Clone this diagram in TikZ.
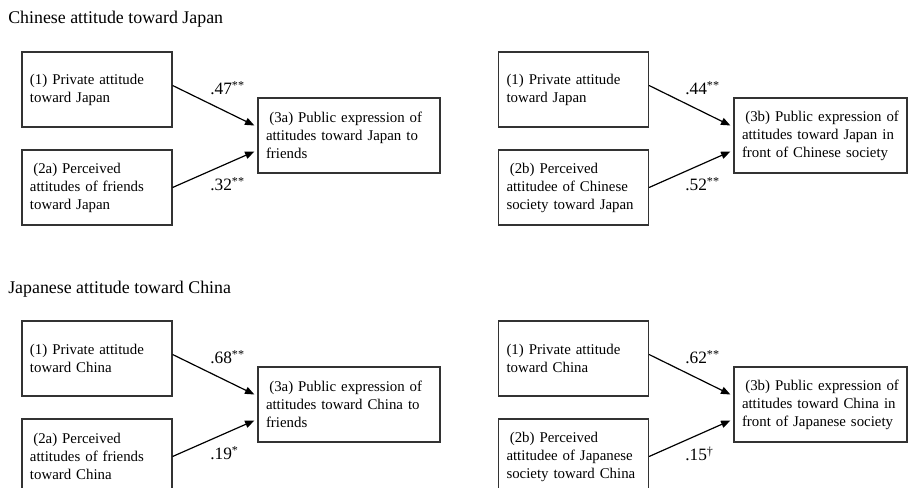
\documentclass[tikz,border=0pt]{standalone}
\usepackage{fontspec}
\setmainfont{Liberation Serif}
\usetikzlibrary{arrows.meta}

\begin{document}
\begin{tikzpicture}[x=0.75pt, y=-0.75pt,
		var/.style={draw=black!80, line width=.9pt, text width=100.5pt, minimum height=56.25pt, inner xsep=6pt, align=left, font=\fontsize{11.15}{13.5}\selectfont},
		outvar/.style={var, text width=124.5pt},
		path/.style={line width=.9pt, -{Triangle[length=7pt, width=5.5pt]}},
		coef/.style={anchor=base west, inner sep=0pt, font=\fontsize{13}{15}\selectfont},
		title/.style={anchor=base west, inner sep=0pt, font=\fontsize{13.4}{16}\selectfont}]
				\useasboundingbox (0,0) rectangle (908,488);
				\clip (0,0) rectangle (908,488);

				% Chinese attitude toward Japan
				\node[title] (tcn) at (8,24) {Chinese attitude toward Japan};
				\node[var] (cn1) at (97,89.5) {(1) Private attitude\\toward Japan};
				\node[var] (cn2a) at (97,187.5) {\hspace{2.5pt}(2a) Perceived\\attitudes of friends\\toward Japan};
				\node[outvar] (cn3a) at (349,135.5) {\hspace{2.5pt}(3a) Public expression of\\attitudes toward Japan to\\friends};
				\draw[path] ([yshift=3pt]cn1.east) -- ([xshift=-2.25pt, yshift=7.5pt]cn3a.west);
				\draw[path] (cn2a.east) -- ([xshift=-2.25pt, yshift=-12pt]cn3a.west);
				\node[coef] (b1) at (210,95) {.47\textsuperscript{**}};
				\node[coef] (b2) at (210,191) {.32\textsuperscript{**}};

				\node[var] (cn1b) at (573.5,89.5) {(1) Private attitude\\toward Japan};
				\node[var] (cn2b) at (573.5,187.5) {\hspace{2.5pt}(2b) Perceived\\attitudee of Chinese\\society toward Japan};
				\node[outvar, text width=117.75pt] (cn3b) at (820.5,135.5) {\hspace{2.5pt}(3b) Public expression of\\attitudes toward Japan in\\front of Chinese society};
				\draw[path] ([yshift=3pt]cn1b.east) -- ([xshift=-2.25pt, yshift=7.5pt]cn3b.west);
				\draw[path] (cn2b.east) -- ([xshift=-2.25pt, yshift=-12pt]cn3b.west);
				\node[coef] (b3) at (685,95) {.44\textsuperscript{**}};
				\node[coef] (b4) at (685,191) {.52\textsuperscript{**}};

				% Japanese attitude toward China
				\node[title] (tjp) at (8,294) {Japanese attitude toward China};
				\node[var] (jp1) at (97,358.5) {(1) Private attitude\\toward China};
				\node[var] (jp2a) at (97,456.5) {\hspace{2.5pt}(2a) Perceived\\attitudes of friends\\toward China};
				\node[outvar] (jp3a) at (349,404.5) {\hspace{2.5pt}(3a) Public expression of\\attitudes toward China to\\friends};
				\draw[path] ([yshift=3pt]jp1.east) -- ([xshift=-2.25pt, yshift=7.5pt]jp3a.west);
				\draw[path] (jp2a.east) -- ([xshift=-2.25pt, yshift=-12pt]jp3a.west);
				\node[coef] (b5) at (210,364) {.68\textsuperscript{**}};
				\node[coef] (b6) at (210,460) {.19\textsuperscript{*}};

				\node[var] (jp1b) at (573.5,358.5) {(1) Private attitude\\toward China};
				\node[var] (jp2b) at (573.5,456.5) {\hspace{2.5pt}(2b) Perceived\\attitudee of Japanese\\society toward China};
				\node[outvar, text width=117.75pt] (jp3b) at (820.5,404.5) {\hspace{2.5pt}(3b) Public expression of\\attitudes toward China in\\front of Japanese society};
				\draw[path] ([yshift=3pt]jp1b.east) -- ([xshift=-2.25pt, yshift=7.5pt]jp3b.west);
				\draw[path] (jp2b.east) -- ([xshift=-2.25pt, yshift=-12pt]jp3b.west);
				\node[coef] (b7) at (685,364) {.62\textsuperscript{**}};
				\node[coef] (b8) at (685,461) {.15\textsuperscript{\dag}};

			\end{tikzpicture}
\end{document}
